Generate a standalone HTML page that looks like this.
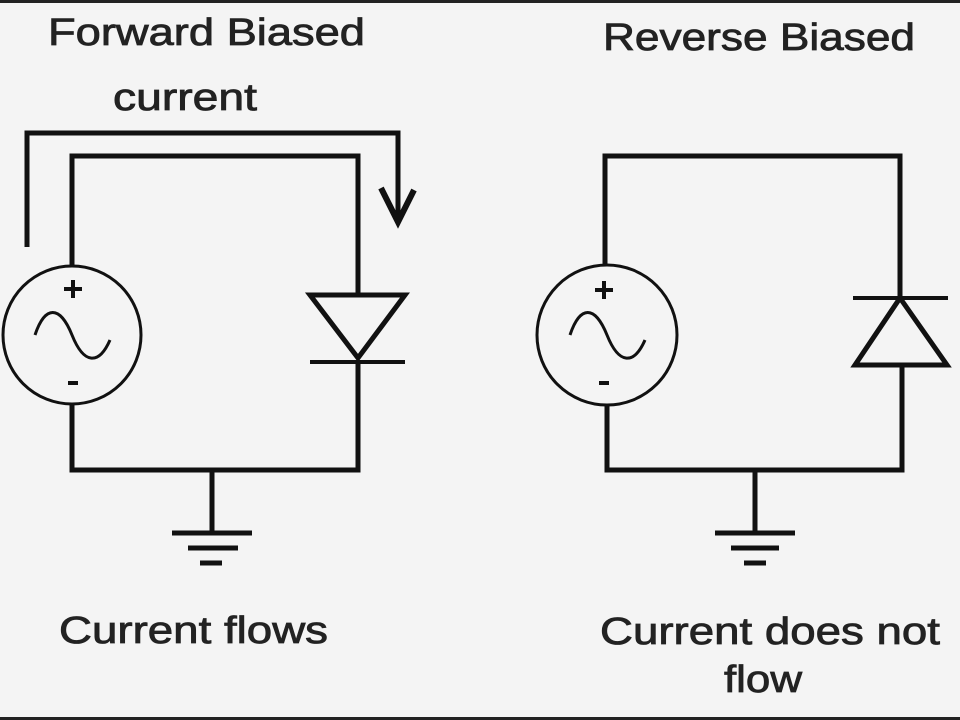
<!DOCTYPE html>
<html><head><style>
html,body{margin:0;padding:0;background:#f4f4f4;}
svg{display:block;}
text{font-family:"Liberation Sans",Arial,sans-serif;fill:#222;stroke:#222;stroke-width:0.8;}
</style></head><body>
<svg width="960" height="720" viewBox="0 0 960 720" xmlns="http://www.w3.org/2000/svg">
<rect width="960" height="720" fill="#f4f4f4"/>
<rect x="0" y="0" width="960" height="3" fill="#222"/>
<rect x="0" y="717" width="960" height="3" fill="#222"/>

<text x="48" y="45" font-size="38" textLength="317" lengthAdjust="spacingAndGlyphs">Forward Biased</text>
<text x="113" y="110" font-size="38" textLength="144" lengthAdjust="spacingAndGlyphs">current</text>
<text x="603" y="50" font-size="38" textLength="312" lengthAdjust="spacingAndGlyphs">Reverse Biased</text>
<text x="59" y="643" font-size="38" textLength="269" lengthAdjust="spacingAndGlyphs">Current flows</text>
<text x="600" y="644" font-size="38" textLength="340" lengthAdjust="spacingAndGlyphs">Current does not</text>
<text x="724" y="692" font-size="38" textLength="78" lengthAdjust="spacingAndGlyphs">flow</text>

<g stroke="#111" fill="none" stroke-width="5">
<polyline points="27,247 27,133 398,133 398,218" stroke-width="5"/>
<path d="M381,188 L398,222 L414,190" stroke-width="6"/>
<polyline points="72,265 72,156 358,156 358,295"/>
<polyline points="72,405 72,470 358,470 358,362"/>
<circle cx="72" cy="335" r="69" stroke-width="3"/>
<path d="M35,335 C45,305 60,305 72,335 C84,365 99,365 110,340" stroke-width="3"/>
<path d="M310,295 L405,295 L358,358 Z" stroke-width="5"/>
<line x1="310" y1="362" x2="405" y2="362" stroke-width="4"/>
<line x1="212" y1="470" x2="212" y2="533"/>
<line x1="172" y1="533" x2="252" y2="533"/>
<line x1="188" y1="548" x2="238" y2="548"/>
<line x1="200" y1="563" x2="222" y2="563"/>
<polyline points="605,265 605,156 900,156 900,298"/>
<polyline points="607,405 607,470 902,470 902,365"/>
<circle cx="607" cy="335" r="70" stroke-width="3"/>
<path d="M570,335 C580,305 595,305 607,335 C619,365 634,365 645,340" stroke-width="3"/>
<line x1="853" y1="298" x2="948" y2="298" stroke-width="4"/>
<path d="M900,298 L855,365 L947,365 Z" stroke-width="5"/>
<line x1="755" y1="470" x2="755" y2="533"/>
<line x1="715" y1="533" x2="795" y2="533"/>
<line x1="731" y1="548" x2="779" y2="548"/>
<line x1="744" y1="563" x2="766" y2="563"/>
</g>
<g stroke="#111" stroke-width="4">
<line x1="64" y1="289" x2="82" y2="289"/><line x1="73" y1="280" x2="73" y2="298"/>
<line x1="68" y1="383" x2="78" y2="383"/>
<line x1="595" y1="290" x2="613" y2="290"/><line x1="604" y1="281" x2="604" y2="299"/>
<line x1="599" y1="383" x2="609" y2="383"/>
</g>
</svg>
</body></html>
